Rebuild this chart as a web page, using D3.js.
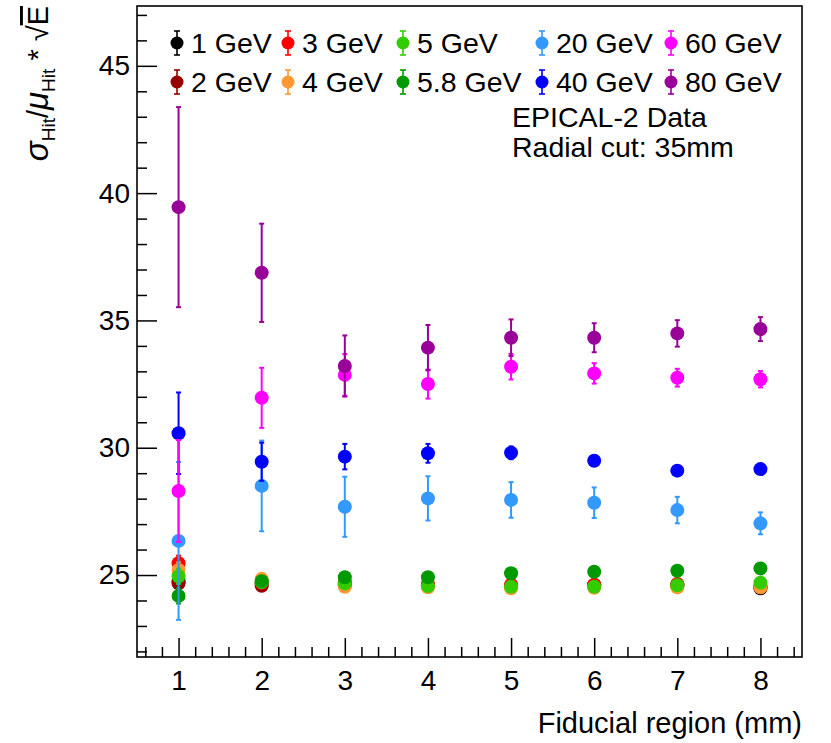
<!DOCTYPE html>
<html><head><meta charset="utf-8">
<script src="https://cdn.jsdelivr.net/npm/d3@7"></script>
<style>body{margin:0;background:#fff}svg{display:block}text{font-family:"Liberation Sans",Arial,sans-serif}</style>
</head><body>
<svg id="c" width="831" height="743"></svg>
<script>
// ---- data ----
const regions = [1,2,3,4,5,6,7,8];
const xTicks = [1,2,3,4,5,6,7,8];
const yTicks = [25,30,35,40,45];
const seriesNames = ["1 GeV","2 GeV","3 GeV","4 GeV","5 GeV","5.8 GeV","20 GeV","40 GeV","60 GeV","80 GeV"];
const seriesColors = ["#000000","#990000","#ff0000","#ff9933","#33cc00","#009900","#3399ff","#0000ff","#ff00ff","#990099"];
const val1GeV  = [24.75,24.65,24.65,24.60,24.55,24.60,24.60,24.48];
const err1GeV  = [0.30,0.15,0.12,0.10,0.10,0.10,0.10,0.10];
const val2GeV  = [24.67,24.58,24.60,24.60,24.55,24.60,24.60,24.52];
const err2GeV  = [0.30,0.15,0.12,0.10,0.10,0.10,0.10,0.10];
const val3GeV  = [25.46,24.70,24.72,24.65,24.62,24.62,24.65,24.55];
const err3GeV  = [0.30,0.15,0.12,0.10,0.10,0.10,0.10,0.10];
const val4GeV  = [25.20,24.85,24.54,24.52,24.48,24.50,24.52,24.52];
const err4GeV  = [0.30,0.15,0.12,0.10,0.10,0.10,0.10,0.10];
const val5GeV  = [24.95,24.72,24.67,24.57,24.54,24.54,24.60,24.70];
const err5GeV  = [0.30,0.15,0.12,0.10,0.10,0.10,0.10,0.10];
const val5p8GeV= [24.18,24.76,24.91,24.91,25.07,25.13,25.17,25.26];
const err5p8GeV= [0.30,0.15,0.12,0.10,0.10,0.10,0.10,0.10];
const val20GeV = [26.34,28.50,27.68,28.01,27.95,27.84,27.55,27.03];
const err20GeV = [3.10,1.78,1.18,0.87,0.70,0.60,0.52,0.43];
const val40GeV = [30.57,29.45,29.65,29.78,29.80,29.49,29.10,29.16];
const err40GeV = [1.60,0.75,0.50,0.37,0.25,0.18,0.14,0.14];
const val60GeV = [28.30,31.96,32.86,32.50,33.18,32.92,32.75,32.69];
const err60GeV = [2.00,1.18,0.82,0.57,0.50,0.40,0.35,0.32];
const val80GeV = [39.45,36.87,33.21,33.93,34.32,34.32,34.49,34.66];
const err80GeV = [3.93,1.93,1.20,0.89,0.72,0.57,0.52,0.47];
const legendRow1 = ["1 GeV","3 GeV","5 GeV","20 GeV","60 GeV"];
const legendRow2 = ["2 GeV","4 GeV","5.8 GeV","40 GeV","80 GeV"];

const seriesVals = [val1GeV,val2GeV,val3GeV,val4GeV,val5GeV,val5p8GeV,val20GeV,val40GeV,val60GeV,val80GeV];
const seriesErrs = [err1GeV,err2GeV,err3GeV,err4GeV,err5GeV,err5p8GeV,err20GeV,err40GeV,err60GeV,err80GeV];

// ---- layout ----
const L=137, R=802, T=6, B=657;
const svg = d3.select("#c");
const x = d3.scaleLinear().domain([0.5,8.5]).range([L,R]);
const y = d3.scaleLinear().domain([21.78,47.35]).range([B,T]);
const FS = 28;

// axes
const xMinor = d3.range(0.6,8.5,0.2).map(v=>+v.toFixed(1)).filter(v=>Math.abs(v-Math.round(v))>1e-6);
const yMinor = d3.range(22,48,1).filter(v=>v%5!==0 && v<=47);

svg.append("g").attr("transform",`translate(0,${B})`)
  .call(d3.axisBottom(x).tickValues(xMinor).tickSizeInner(-10).tickSizeOuter(0).tickFormat(""))
  .call(g=>g.select(".domain").remove())
  .call(g=>g.selectAll("line").attr("stroke","#000").attr("stroke-width",1.5));
svg.append("g").attr("transform",`translate(0,${B})`)
  .call(d3.axisBottom(x).tickValues(xTicks).tickSizeInner(-19).tickSizeOuter(0).tickPadding(13).tickFormat(d3.format("d")))
  .call(g=>g.select(".domain").remove())
  .call(g=>g.selectAll("line").attr("stroke","#000").attr("stroke-width",1.5))
  .call(g=>g.selectAll("text").attr("font-size",FS).attr("fill","#000").style("font-family","Liberation Sans, Arial, sans-serif"));
svg.append("g").attr("transform",`translate(${L},0)`)
  .call(d3.axisLeft(y).tickValues(yMinor).tickSizeInner(-10).tickSizeOuter(0).tickFormat(""))
  .call(g=>g.select(".domain").remove())
  .call(g=>g.selectAll("line").attr("stroke","#000").attr("stroke-width",1.5));
svg.append("g").attr("transform",`translate(${L},0)`)
  .call(d3.axisLeft(y).tickValues(yTicks).tickSizeInner(-20).tickSizeOuter(0).tickPadding(7).tickFormat(d3.format("d")))
  .call(g=>g.select(".domain").remove())
  .call(g=>g.selectAll("line").attr("stroke","#000").attr("stroke-width",1.5))
  .call(g=>g.selectAll("text").attr("font-size",FS).attr("fill","#000").style("font-family","Liberation Sans, Arial, sans-serif"));

// frame
svg.append("rect").attr("x",L).attr("y",T).attr("width",R-L).attr("height",B-T)
  .attr("fill","none").attr("stroke","#000").attr("stroke-width",1.6);

// data
const plot = svg.append("g");
seriesNames.forEach((name,i)=>{
  const g = plot.append("g").attr("fill",seriesColors[i]).attr("stroke",seriesColors[i]);
  const pts = regions.map((r,j)=>({x:r,v:seriesVals[i][j],e:seriesErrs[i][j]}));
  pts.forEach(p=>{
    const cx = x(p.x), y0=y(p.v-p.e), y1=y(p.v+p.e);
    g.append("line").attr("x1",cx).attr("x2",cx).attr("y1",y0).attr("y2",y1).attr("stroke-width",2);
    g.append("line").attr("x1",cx-2.5).attr("x2",cx+2.5).attr("y1",y0).attr("y2",y0).attr("stroke-width",2);
    g.append("line").attr("x1",cx-2.5).attr("x2",cx+2.5).attr("y1",y1).attr("y2",y1).attr("stroke-width",2);
    g.append("circle").attr("cx",cx).attr("cy",y(p.v)).attr("r",7).attr("stroke","none");
  });
});

// legend
const colX = [177,288,403,542,671];
const rowY = [43,82];
[legendRow1,legendRow2].forEach((row,ri)=>{
  row.forEach((name,ci)=>{
    const col = seriesColors[seriesNames.indexOf(name)];
    const cx = colX[ci], cy = rowY[ri];
    const g = svg.append("g").attr("stroke",col).attr("fill",col);
    g.append("line").attr("x1",cx).attr("x2",cx).attr("y1",cy-12).attr("y2",cy+12).attr("stroke-width",1.6);
    g.append("line").attr("x1",cx-3).attr("x2",cx+3).attr("y1",cy-12).attr("y2",cy-12).attr("stroke-width",1.6);
    g.append("line").attr("x1",cx-3).attr("x2",cx+3).attr("y1",cy+12).attr("y2",cy+12).attr("stroke-width",1.6);
    g.append("circle").attr("cx",cx).attr("cy",cy).attr("r",6.5).attr("stroke","none");
    svg.append("text").attr("x",cx+14).attr("y",cy+10).attr("font-size",28.5).attr("fill","#000").text(name);
  });
});

// annotation
svg.append("text").attr("x",512).attr("y",127).attr("font-size",28.5).text("EPICAL-2 Data");
svg.append("text").attr("x",512).attr("y",157).attr("font-size",28.5).text("Radial cut: 35mm");

// axis titles
svg.append("text").attr("x",R).attr("y",733).attr("text-anchor","end").attr("font-size",29).text("Fiducial region (mm)");

const yt = svg.append("text").attr("transform","translate(48,6) rotate(-90)").attr("text-anchor","end").attr("font-size",29);
yt.append("tspan").attr("font-style","italic").attr("font-size",33).text("σ");
yt.append("tspan").attr("font-size",19).attr("dy",7).text("Hit");
yt.append("tspan").attr("dy",-7).text("/");
yt.append("tspan").attr("font-style","italic").attr("font-size",33).text("μ");
yt.append("tspan").attr("font-size",19).attr("dy",7).text("Hit");
yt.append("tspan").attr("dy",-7).text(" * ");
yt.append("tspan").text("√");
yt.append("tspan").attr("text-decoration","overline").text("E");
</script>
</body></html>
